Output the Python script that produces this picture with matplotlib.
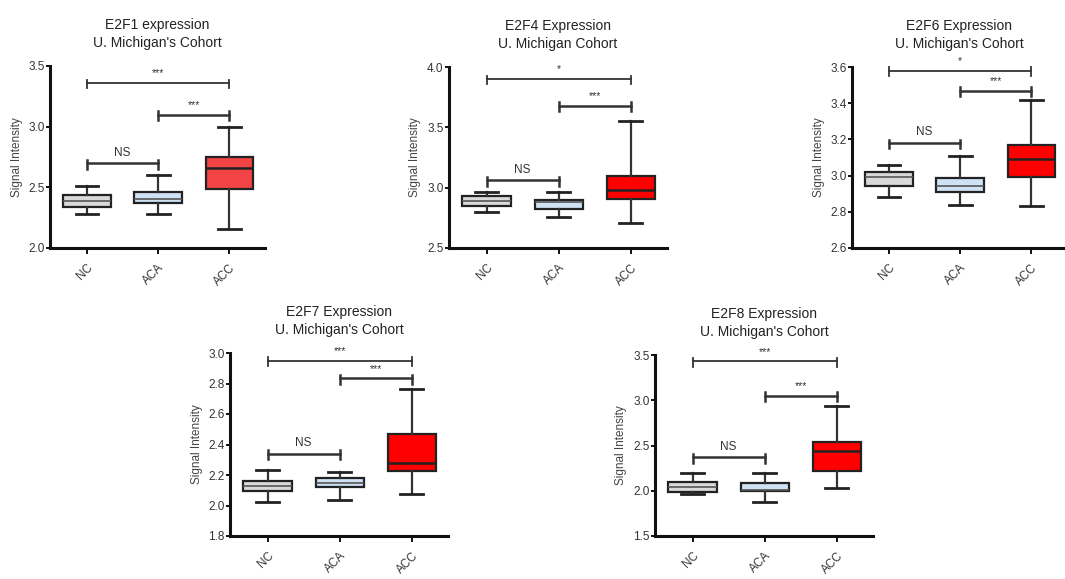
import matplotlib.pyplot as plt

# ----------- Data -----------

groups = ["NC", "ACA", "ACC"]

# each entry: [whisker low, Q1, median, Q3, whisker high] for NC, ACA, ACC
e2f1 = [[2.28, 2.34, 2.39, 2.44, 2.51],
        [2.28, 2.37, 2.40, 2.46, 2.60],
        [2.16, 2.49, 2.66, 2.75, 3.00]]
e2f4 = [[2.80, 2.85, 2.89, 2.93, 2.96],
        [2.76, 2.82, 2.88, 2.90, 2.96],
        [2.71, 2.91, 2.98, 3.10, 3.55]]
e2f6 = [[2.88, 2.94, 2.99, 3.02, 3.06],
        [2.835, 2.91, 2.94, 2.985, 3.11],
        [2.83, 2.99, 3.09, 3.17, 3.42]]
e2f7 = [[2.025, 2.095, 2.13, 2.16, 2.23],
        [2.036, 2.12, 2.146, 2.18, 2.22],
        [2.076, 2.227, 2.28, 2.47, 2.765]]
e2f8 = [[1.96, 1.99, 2.045, 2.10, 2.20],
        [1.88, 1.997, 2.01, 2.09, 2.20],
        [2.03, 2.22, 2.44, 2.54, 2.94]]

# significance brackets: (from group, to group, height, label)
sig_e2f1 = [(0, 1, 2.70, "NS"), (0, 2, 3.36, "***"), (1, 2, 3.10, "***")]
sig_e2f4 = [(0, 1, 3.06, "NS"), (0, 2, 3.90, "*"), (1, 2, 3.68, "***")]
sig_e2f6 = [(0, 1, 3.18, "NS"), (0, 2, 3.58, "*"), (1, 2, 3.47, "***")]
sig_e2f7 = [(0, 1, 2.34, "NS"), (0, 2, 2.95, "***"), (1, 2, 2.835, "***")]
sig_e2f8 = [(0, 1, 2.37, "NS"), (0, 2, 3.43, "***"), (1, 2, 3.05, "***")]

titles = ["E2F1 expression\nU. Michigan's Cohort",
          "E2F4 Expression\nU. Michigan Cohort",
          "E2F6 Expression\nU. Michigan's Cohort",
          "E2F7 Expression\nU. Michigan's Cohort",
          "E2F8 Expression\nU. Michigan's Cohort"]

ylims = [(2.0, 3.5), (2.5, 4.0), (2.6, 3.6), (1.8, 3.0), (1.5, 3.5)]
yticks = [[2.0, 2.5, 3.0, 3.5], [2.5, 3.0, 3.5, 4.0],
          [2.6, 2.8, 3.0, 3.2, 3.4, 3.6],
          [1.8, 2.0, 2.2, 2.4, 2.6, 2.8, 3.0], [1.5, 2.0, 2.5, 3.0, 3.5]]

box_colors = [["#d9d9d9", "#cfe2f3", "#f24444"]] + [["#d9d9d9", "#cfe2f3", "#ff0000"]] * 4

# ----------- Plot -----------

plt.rcParams['font.family'] = ['Liberation Sans', 'DejaVu Sans']

W, H = 1065, 579
fig = plt.figure(figsize=(W / 100, H / 100), dpi=100)

# axes boxes in pixels: left, right, top, bottom
boxes_px = [(50, 265, 66, 248), (449, 667, 67, 248), (852, 1067, 67, 248),
            (230, 448, 353, 536), (655, 873, 355, 536)]

panels = [e2f1, e2f4, e2f6, e2f7, e2f8]
sigs = [sig_e2f1, sig_e2f4, sig_e2f6, sig_e2f7, sig_e2f8]

for i, (l, r, t, b) in enumerate(boxes_px):
    ax = fig.add_axes([l / W, 1 - b / H, (r - l) / W, (b - t) / H])
    stats = []
    for g, v in zip(groups, panels[i]):
        stats.append(dict(label=g, whislo=v[0], q1=v[1], med=v[2], q3=v[3], whishi=v[4], fliers=[]))
    bp = ax.bxp(stats, positions=[0, 1, 2], widths=0.67, patch_artist=True, showfliers=False,
                capwidths=0.32,
                boxprops=dict(edgecolor="#222222", linewidth=1.6),
                whiskerprops=dict(color="#333333", linewidth=1.6),
                capprops=dict(color="#222222", linewidth=2),
                medianprops=dict(color="#222222", linewidth=1.8))
    for patch, c in zip(bp["boxes"], box_colors[i]):
        patch.set_facecolor(c)
    for j, m in enumerate(bp["medians"]):
        if j < 2:
            m.set_color("#555555")
            m.set_linewidth(1.2)

    ylo, yhi = ylims[i]
    tick_h = (yhi - ylo) * 0.03
    for g1, g2, yb, lab in sigs[i]:
        lw = 1.8 if lab == "NS" or (g1 == 1) else 1.3
        ax.plot([g1, g2], [yb, yb], color="#333333", lw=lw, clip_on=False)
        for gx in (g1, g2):
            ax.plot([gx, gx], [yb - tick_h, yb + tick_h * 0.6], color="#333333", lw=lw,
                    clip_on=False)
        ax.text((g1 + g2) / 2, yb + (yhi - ylo) * 0.025, lab, ha="center", va="bottom",
                fontsize=8.5 if lab == "NS" else 7.5, color="#333333")

    ax.set_xlim(-0.52, 2.5)
    ax.set_ylim(ylo, yhi)
    ax.set_yticks(yticks[i])
    ax.set_yticklabels([f"{y:.1f}" for y in yticks[i]])
    ax.set_xticks([0, 1, 2])
    ax.set_xticklabels(groups, rotation=45, ha="right", rotation_mode="anchor")
    ax.tick_params(axis="both", labelsize=8.5, labelcolor="#333333", width=1.3, length=3,
                   direction="out")
    ax.tick_params(axis="y", pad=1)
    ax.tick_params(axis="x", length=4, pad=6)
    for s in ["top", "right"]:
        ax.spines[s].set_visible(False)
    for s in ["left", "bottom"]:
        ax.spines[s].set_linewidth(2.2)
        ax.spines[s].set_color("#111111")
    ax.set_ylabel("Signal Intensity", fontsize=8.5, color="#444444", labelpad=4)
    ax.set_title(titles[i], fontsize=10, color="#222222", pad=14, linespacing=1.35)
    ax.set_facecolor("none")

fig.savefig("out.png", dpi=100)
